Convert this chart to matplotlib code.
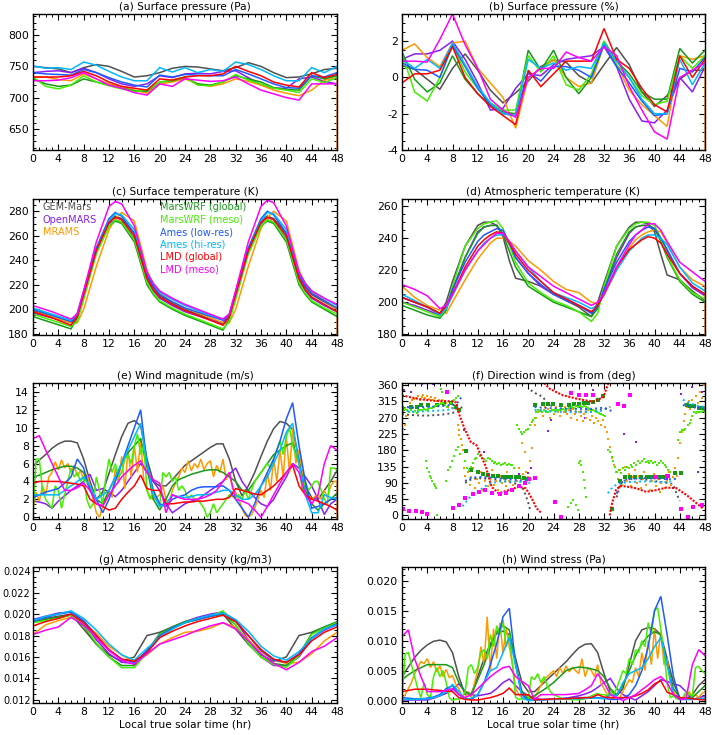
import numpy as np
import matplotlib.pyplot as plt
from matplotlib.ticker import MultipleLocator, FormatStrFormatter

plt.rcParams['font.family'] = 'DejaVu Sans'
plt.rcParams['axes.unicode_minus'] = False

nan = np.nan

models = ['GEM-Mars', 'OpenMARS', 'MRAMS', 'MarsWRF (global)', 'MarsWRF (meso)',
          'Ames (low-res)', 'Ames (hi-res)', 'LMD (global)', 'LMD (meso)']
colors = ['#505050', '#8a1ef0', '#ff9900', '#169a16', '#44ee00',
          '#1e5aff', '#00b8ff', '#ff0000', '#ff00ff']

# sample times (hr)
hours2 = np.arange(0, 49, 2)
hours1 = np.arange(0, 49, 1)
hours_half = np.arange(0, 48.5, 0.5)
hours_c = [0, 3, 6, 7, 8, 10, 12, 13, 14, 16, 18, 19, 20, 22, 24, 27, 30, 31, 32, 34,
           36, 37, 38, 40, 42, 43, 44, 46, 48]
hours_d = [0, 2, 4, 6, 7, 8, 10, 12, 13, 14, 15, 16, 17, 18, 20, 22, 24, 26, 28, 30,
           31, 32, 34, 36, 37, 38, 39, 40, 41, 42, 44, 46, 48]

# ---- (a) surface pressure, Pa (2-hourly)
gem_a = [750, 748, 746, 740, 748, 753, 750, 742, 733, 735, 740, 747, 750, 749, 746, 743, 748, 756, 750, 740, 732, 733, 738, 745, 747]
omars_a = [740, 742, 743, 740, 747, 740, 730, 722, 718, 722, 735, 732, 738, 739, 738, 742, 743, 732, 720, 715, 715, 730, 733, 726, 722]
mrams_a = [733, 733, 729, 727, 738, 730, 722, 717, 712, 707, 722, 725, 730, 722, 718, 722, 730, 726, 720, 712, 707, 703, 712, 728, 732]
wrfg_a = [730, 722, 718, 720, 730, 725, 720, 715, 711, 710, 725, 727, 732, 722, 720, 725, 735, 730, 725, 716, 713, 712, 735, 730, 735]
wrfm_a = [733, 718, 714, 720, 735, 725, 719, 714, 710, 712, 725, 728, 733, 720, 719, 725, 737, 728, 722, 715, 712, 708, 730, 724, 732]
ameslo_a = [740, 738, 737, 736, 745, 740, 732, 725, 720, 717, 736, 733, 737, 736, 735, 735, 745, 738, 730, 722, 716, 715, 735, 733, 740]
ameshi_a = [751, 747, 748, 745, 757, 752, 742, 733, 727, 727, 748, 741, 748, 740, 745, 742, 757, 753, 745, 735, 727, 727, 748, 740, 750]
lmdg_a = [733, 733, 733, 735, 742, 735, 725, 718, 715, 712, 730, 728, 733, 735, 735, 738, 750, 742, 735, 725, 720, 717, 740, 732, 737]
lmdm_a = [727, 727, 728, 732, 740, 730, 720, 715, 708, 704, 722, 718, 730, 728, 726, 727, 733, 722, 712, 706, 700, 696, 722, 722, 722]

# ---- (b) surface pressure anomaly, % (2-hourly)
gem_b = [0.65, 0.45, -0.1, -0.65, 0.5, 1.3, 0.4, -0.7, -1.4, -0.85, -0.2, 0.6, 0.95, 0.85, 0.1, -0.3, 0.7, 1.65, 0.7, -0.8, -1.6, -1.0, -0.1, 0.4, 0.4]
omars_b = [1.0, 1.3, 1.3, 1.5, 2.0, 1.0, -0.3, -1.8, -1.7, -0.6, 0.2, 0.1, 0.7, 1.0, 1.1, 1.2, 1.7, 0.6, -1.2, -2.4, -2.5, -1.8, 0.0, -0.8, 0.6]
mrams_b = [1.5, 1.85, 1.1, 0.6, 1.9, 2.0, 0.5, -0.3, -1.1, -2.8, 0.0, 0.5, 1.0, 0.0, -0.5, -0.3, 1.8, 0.7, -0.7, -1.5, -2.1, -2.7, 1.2, 1.0, 1.2]
wrfg_b = [1.4, -0.1, -0.8, -0.3, 1.2, -0.1, -0.9, -1.5, -1.9, -2.0, 1.5, 0.4, 1.5, 0.0, -0.9, 0.0, 2.0, 0.9, 0.2, -0.8, -1.2, -1.2, 1.6, 0.8, 1.5]
wrfm_b = [1.3, -0.8, -1.3, 0.0, 1.8, 0.3, -0.6, -1.4, -1.8, -1.8, 1.2, 0.3, 1.2, -0.4, -0.7, 0.2, 2.0, 0.7, 0.0, -1.0, -1.5, -1.3, 1.2, 0.5, 1.2]
ameslo_b = [0.8, 0.45, 0.4, 0.0, 1.8, 0.6, -0.6, -1.5, -2.0, -2.1, 0.3, -0.2, 0.6, 0.6, 0.4, 0.0, 1.8, 0.6, -0.3, -1.3, -2.1, -2.0, 0.5, 0.3, 1.1]
ameshi_b = [1.0, 0.5, 1.0, 0.5, 1.9, 0.7, -0.5, -1.4, -2.0, -2.1, 1.0, 0.5, 0.8, 0.4, 0.6, 0.5, 1.9, 0.9, 0.0, -1.2, -2.0, -2.0, 1.0, -0.4, 0.8]
lmdg_b = [-0.3, 0.2, 0.2, 0.4, 1.7, 0.0, -0.9, -1.6, -2.1, -2.6, 0.4, -0.5, 0.2, 0.9, 0.9, 0.9, 2.7, 1.0, 0.5, -0.6, -1.5, -1.9, 1.2, 0.0, 1.0]
lmdm_b = [0.9, 0.9, 0.85, 2.1, 3.5, 1.8, 0.5, -1.2, -1.8, -2.2, 0.0, 0.5, 0.5, 1.4, 1.1, 0.9, 1.7, 1.2, -0.5, -1.8, -3.0, -3.4, 0.0, 0.4, 0.8]

# ---- (c) surface temperature, K (hours_c)
gem_c = [199, 194, 189, 195, 212, 248, 272, 276, 274, 262, 227, 218, 211, 205, 200, 194, 188, 194, 212, 248, 272, 276, 274, 262, 227, 218, 212, 206, 200]
omars_c = [197, 193, 190, 197, 215, 250, 270, 273, 271, 258, 224, 215, 209, 203, 198, 193, 189, 196, 215, 250, 270, 273, 271, 258, 224, 215, 209, 203, 198]
mrams_c = [198, 194, 189, 189, 200, 235, 265, 274, 279, 272, 232, 220, 213, 206, 201, 195, 189, 189, 200, 235, 266, 275, 280, 272, 232, 221, 214, 207, 200]
wrfg_c = [194, 189, 184, 193, 212, 248, 268, 272, 270, 255, 220, 212, 206, 200, 195, 189, 183, 192, 212, 248, 268, 272, 270, 255, 220, 212, 206, 200, 194]
wrfm_c = [196, 191, 186, 190, 208, 245, 268, 273, 271, 257, 222, 213, 207, 201, 196, 190, 184, 190, 208, 245, 268, 273, 271, 257, 222, 213, 207, 201, 196]
ameslo_c = [200, 195, 190, 196, 213, 250, 274, 279, 276, 262, 228, 219, 212, 206, 201, 196, 191, 196, 213, 250, 274, 280, 277, 262, 228, 219, 213, 207, 201]
ameshi_c = [201, 196, 191, 196, 212, 248, 272, 278, 277, 265, 230, 221, 214, 208, 203, 197, 192, 196, 212, 248, 272, 279, 278, 265, 230, 221, 215, 209, 203]
lmdg_c = [198, 193, 187, 194, 212, 248, 271, 275, 273, 260, 225, 216, 210, 204, 199, 193, 187, 194, 212, 248, 271, 275, 273, 260, 225, 216, 210, 204, 198]
lmdm_c = [203, 198, 192, 196, 215, 255, 284, 288, 286, 268, 230, 221, 215, 209, 204, 198, 192, 196, 215, 255, 284, 289, 287, 268, 230, 221, 215, 209, 204]

# ---- (d) atmospheric temperature, K (hours_d)
gem_d = [203, 200, 197, 193, 200, 213, 235, 248, 250, 250, 248, 241, 226, 215, 213, 210, 205, 201, 197, 191, 200, 212, 235, 247, 250, 250, 249, 244, 230, 217, 214, 207, 201]
omars_d = [200, 198, 195, 192, 196, 208, 228, 244, 247, 248, 248, 243, 236, 228, 218, 210, 205, 202, 198, 194, 196, 207, 228, 243, 247, 248, 248, 246, 240, 232, 218, 209, 204]
mrams_d = [210, 203, 198, 195, 193, 200, 214, 227, 232, 237, 240, 240, 238, 235, 226, 220, 213, 208, 206, 200, 199, 204, 220, 234, 239, 242, 244, 245, 244, 237, 222, 214, 210]
wrfg_d = [198, 195, 192, 190, 195, 207, 228, 243, 247, 248, 248, 242, 232, 222, 210, 205, 200, 197, 194, 191, 196, 208, 230, 244, 247, 248, 248, 246, 238, 228, 213, 205, 200]
wrfm_d = [200, 197, 194, 191, 196, 210, 235, 246, 249, 250, 251, 246, 236, 225, 212, 206, 201, 198, 194, 188, 193, 210, 235, 246, 249, 250, 250, 248, 240, 229, 214, 206, 202]
ameslo_d = [203, 200, 197, 193, 197, 208, 225, 238, 242, 244, 246, 245, 237, 228, 218, 211, 205, 201, 198, 193, 197, 208, 225, 238, 242, 245, 247, 246, 240, 233, 218, 210, 205]
ameshi_d = [205, 201, 197, 192, 196, 204, 220, 232, 237, 240, 242, 242, 238, 232, 222, 213, 206, 203, 200, 196, 198, 205, 220, 232, 236, 240, 242, 242, 240, 236, 222, 212, 207]
lmdg_d = [203, 200, 197, 193, 198, 205, 222, 235, 239, 242, 244, 243, 237, 230, 220, 213, 206, 202, 198, 194, 198, 205, 222, 233, 236, 239, 241, 240, 237, 230, 218, 210, 205]
lmdm_d = [211, 208, 204, 196, 198, 205, 220, 232, 236, 240, 243, 243, 238, 232, 222, 216, 210, 206, 202, 198, 200, 205, 222, 236, 242, 245, 249, 249, 245, 238, 225, 219, 213]

# ---- (e) wind magnitude, m/s (hourly; MRAMS and MarsWRF meso half-hourly)
gem_e = [5.7, 6.4, 7.0, 7.7, 8.2, 8.5, 8.5, 8.3, 6.5, 4.0, 2.0, 2.8, 4.9, 7.0, 9.0, 10.5, 10.8, 10.2, 6.5, 4.0,
         3.5, 3.5, 4.2, 5.0, 5.8, 6.3, 6.8, 7.3, 7.8, 8.2, 8.2, 6.5, 4.0, 2.4, 3.5, 5.0, 6.8, 8.5, 9.9, 10.7,
         10.5, 9.8, 6.5, 3.5, 2.2, 2.0, 3.0, 4.0, 5.2]
omars_e = [1.8, 1.7, 1.5, 1.0, 1.8, 2.4, 3.0, 3.5, 4.0, 4.8, 3.0, 3.2, 2.8, 2.3, 3.0, 4.0, 5.0, 6.0, 5.0, 4.0,
           3.0, 1.5, 0.5, 1.0, 1.5, 1.8, 2.0, 2.5, 3.0, 3.5, 4.0, 4.8, 5.5, 4.0, 3.0, 2.2, 1.5, 1.2, 2.0, 3.3,
           4.5, 6.0, 5.5, 4.5, 3.5, 2.0, 0.3, 1.5, 2.0]
mrams_e = [1.0, 2.8, 1.8, 3.5, 2.5, 4.5, 5.0, 6.2, 5.3, 6.4, 5.5, 6.0, 5.0, 5.8, 4.6, 5.2, 4.2, 4.8, 3.5, 2.0,
           0.5, 0.0, 1.2, 1.8, 3.0, 2.2, 5.5, 3.8, 6.8, 3.2, 7.5, 4.5, 8.0, 5.0, 8.8, 4.0, 3.0, 2.3, 2.0, 2.2,
           2.5, 3.5, 2.0, 1.5, 3.0, 3.8, 4.5, 5.5, 5.0, 6.3, 5.2, 6.0, 5.5, 6.5, 5.3, 6.0, 6.3, 4.5, 5.8, 5.0,
           6.5, 4.2, 5.0, 3.2, 2.8, 2.0, 1.0, 0.2, 0.0, 0.3, 1.0, 2.0, 3.0, 2.2, 5.0, 3.0, 6.5, 4.0, 7.5, 4.5,
           9.0, 5.0, 10.0, 6.0, 7.5, 5.0, 3.0, 2.5, 2.0, 2.3, 2.5, 2.0, 3.0, 2.2, 3.5, 4.0, 4.0]
wrfg_e = [4.5, 4.7, 5.0, 5.3, 5.5, 5.7, 5.7, 5.5, 5.0, 3.0, 2.0, 1.5, 3.0, 4.5, 6.0, 7.2, 8.0, 8.8, 5.5, 2.0,
          0.8, 2.0, 3.5, 4.2, 4.5, 4.8, 5.0, 5.2, 5.3, 5.3, 5.0, 4.5, 4.0, 3.0, 3.0, 4.0, 5.0, 6.0, 7.0, 7.5,
          8.0, 8.3, 6.0, 3.0, 1.5, 0.8, 1.5, 2.0, 2.7]
wrfm_e = [0.2, 6.5, 6.5, 3.0, 2.0, 1.5, 1.0, 3.5, 3.0, 1.0, 2.5, 4.0, 5.5, 4.5, 5.0, 4.0, 4.5, 2.0, 1.0, 1.5,
          4.5, 3.0, 1.5, 4.5, 6.5, 5.0, 6.0, 4.5, 5.0, 6.5, 7.0, 6.0, 8.0, 9.3, 7.0, 8.0, 3.0, 2.0, 3.0, 2.0,
          1.2, 5.0, 4.5, 5.0, 4.0, 4.5, 3.0, 3.5, 3.0, 2.0, 2.5, 2.0, 2.0, 1.5, 1.0, 0.0, 0.5, 1.5, 0.5, 1.0,
          1.5, 2.0, 2.5, 2.3, 2.2, 2.5, 2.0, 3.0, 2.0, 3.0, 4.0, 4.5, 5.0, 5.5, 6.0, 5.5, 6.5, 7.5, 8.5, 7.0,
          9.0, 10.0, 8.0, 7.0, 6.0, 3.0, 4.0, 3.0, 3.5, 4.0, 4.0, 3.0, 2.0, 1.5, 5.5, 5.5, 5.3]
ameslo_e = [2.2, 2.5, 2.8, 3.0, 3.2, 3.8, 4.5, 6.5, 5.5, 3.0, 2.0, 0.5, 2.0, 4.0, 6.0, 8.0, 10.0, 12.0, 6.0, 3.0,
            1.5, 1.2, 2.0, 2.3, 2.5, 3.0, 3.3, 3.4, 3.4, 3.4, 3.5, 3.0, 2.0, 1.0, 0.0, 1.5, 3.5, 5.0, 6.5, 8.5,
            11.0, 12.8, 8.0, 4.0, 1.0, 1.2, 1.5, 2.0, 2.2]
ameshi_e = [2.5, 2.5, 2.5, 2.5, 2.5, 3.0, 3.5, 4.0, 4.5, 3.5, 2.0, 2.5, 3.0, 4.5, 6.0, 7.5, 9.0, 10.5, 6.0, 2.5,
            1.2, 1.5, 2.5, 2.3, 2.2, 2.3, 2.5, 2.5, 2.6, 2.8, 3.0, 3.0, 2.5, 2.0, 2.0, 2.5, 3.5, 4.5, 6.0, 7.5,
            9.5, 10.5, 6.0, 2.5, 0.5, 0.5, 2.5, 2.2, 2.0]
lmdg_e = [3.8, 4.0, 4.0, 4.0, 4.0, 3.9, 3.8, 3.7, 3.5, 2.0, 1.5, 1.2, 0.8, 1.0, 2.0, 2.8, 3.5, 4.7, 3.2, 3.0,
          3.0, 1.5, 1.5, 1.6, 1.7, 1.7, 1.8, 1.8, 1.9, 2.0, 2.0, 2.2, 3.2, 3.0, 2.8, 2.6, 2.5, 3.0, 3.5, 4.2,
          5.0, 5.8, 3.5, 2.5, 2.0, 1.8, 1.5, 1.2, 0.8]
lmdm_e = [8.8, 9.1, 7.5, 6.0, 4.5, 3.0, 3.0, 3.3, 3.8, 3.0, 1.5, 1.3, 2.5, 3.5, 4.5, 5.2, 5.8, 6.3, 5.0, 4.2,
          3.8, 0.5, 2.5, 2.2, 2.0, 2.0, 2.0, 2.2, 2.5, 3.0, 4.0, 5.0, 2.0, 1.8, 1.5, 0.8, 0.0, 1.2, 2.5, 3.8,
          5.0, 6.0, 5.0, 2.5, 1.5, 2.5, 6.0, 8.0, 7.5]

# last MRAMS sample drops off the bottom of panels a-e
mrams_drop = {'a': 600, 'b': -5, 'c': 170, 'd': 170, 'e': -1}

# ---- (f) direction wind is from, deg: (hour, deg) samples
gem_f = [(0, 280), (1, 278), (2, 277), (3, 276), (4, 276), (5, 277), (6, 278), (7, 280), (8, 283), (9, 290), (9.5, 300), (nan, nan),
         (10, 90), (11, 100), (12, 103), (13, 102), (14, 100), (15, 98), (16, 95), (17, 92), (18, 88), (19, 80), (19.5, 60), (20, 35), (20.3, 15), (nan, nan),
         (20.4, 346), (21.2, 337), (22.3, 328), (23, 310), (24, 300), (25, 295), (26, 290), (27, 288), (28, 287), (29, 287), (30, 288), (31, 290), (32, 293), (33, 300), (nan, nan),
         (34, 50), (34.5, 80), (35, 95), (36, 100), (37, 102), (38, 100), (39, 98), (40, 95), (41, 92), (42, 90), (43, 85), (43.5, 60), (44, 40), (nan, nan),
         (44.8, 310), (45, 305), (46, 300), (47, 295), (48, 290)]
ameslo_f = [(0, 300), (1, 299), (2, 298), (3, 299), (4, 300), (5, 301), (6, 302), (7, 303), (8, 305), (8.5, 308), (9, 315), (9.5, 330), (nan, nan),
            (10, 95), (10.5, 100), (11, 104), (12, 106), (13, 106), (14, 104), (15, 103), (16, 101), (17, 100), (18, 98), (19, 96), (20, 98), (20.5, 100), (nan, nan),
            (21, 300), (22, 298), (23, 297), (24, 296), (25, 296), (26, 295), (27, 295), (28, 294), (29, 294), (30, 294), (31, 296), (32, 298), (33, 290), (33.5, 285), (nan, nan),
            (34, 60), (34.5, 85), (35, 95), (36, 100), (37, 102), (38, 103), (39, 103), (40, 102), (41, 101), (42, 100), (43, 100), (43.5, 102), (nan, nan),
            (44.5, 305), (45, 303), (46, 300), (47, 298), (48, 296)]
ameshi_f = [(0, 290), (1, 288), (2, 286), (3, 287), (4, 288), (5, 289), (6, 290), (7, 291), (8, 295), (9, 310), (nan, nan),
            (9.6, 25), (10, 35), (10.5, 45), (11, 55), (12, 65), (13, 79), (14, 88), (15, 92), (16, 94), (17, 94), (18, 93), (19, 92), (20, 95), (20.5, 80), (nan, nan),
            (21, 292), (22, 290), (23, 288), (24, 287), (25, 286), (26, 286), (27, 285), (28, 285), (29, 285), (30, 286), (31, 288), (32, 290), (nan, nan),
            (32.6, 61), (33.4, 79), (34, 85), (35, 90), (36, 92), (37, 93), (38, 94), (39, 94), (40, 93), (41, 92), (42, 92), (43, 95), (nan, nan),
            (44.5, 320), (45, 315), (46, 308), (47, 302), (48, 300)]
lmdg_f = [(0, 332), (1, 328), (2, 324), (3, 321), (4, 319), (5, 317), (6, 316), (7, 316), (8, 315), (8.6, 312), (9, 282), (9.9, 240), (10.9, 203), (11.8, 194),
          (12.7, 158), (13.3, 134), (13.7, 107), (14.2, 79), (15.3, 61), (16.9, 70), (18.5, 79), (19.6, 75), (20.1, 61), (20.7, 42), (21.3, 20), (22.1, 6), (nan, nan),
          (22.5, 366), (23.4, 350), (25.5, 332), (27.6, 323), (30.3, 314), (31.9, 327), (32.7, 366), (nan, nan),
          (32.9, 0), (33.3, 35), (33.9, 70), (34.5, 81), (35.5, 80), (37.1, 75), (38.7, 65), (40.3, 70), (41.9, 77), (43.5, 75), (45.1, 56), (46.7, 33), (47.7, 19)]
omars_f = [(0.3, 348), (1.5, 340), (3.1, 363), (4.9, 363), (8.5, 300), (9.8, 237), (13.0, 176), (18.5, 115), (19.9, 116), (20.5, 130), (21.3, 102),
           (23.1, 232), (23.6, 265), (28.2, 300), (29.0, 270), (30.3, 346), (31.5, 250), (35.1, 225), (37.0, 203), (39.5, 110), (42.0, 100),
           (44.2, 335), (46.0, 355), (46.9, 120), (47.5, 340)]
lmdm_f = [(0.2, 17), (1.1, 13), (2.2, 11), (3.1, 9), (4.0, 5), (7.2, 340), (8.0, 20), (9.0, 30), (10.0, 48), (11.2, 60), (12.2, 65), (13.2, 70),
          (14.2, 62), (15.5, 60), (16.5, 62), (17.5, 70), (18.5, 80), (19.5, 90), (20.1, 100), (21.1, 102), (24.2, 38), (25.2, -5), (26.8, 337),
          (28.0, 332), (29.2, 332), (30.3, 333), (34.2, 307), (35.1, 302), (36.1, 334), (40.2, 105), (42.0, 108), (44.2, 19), (45.3, -4),
          (46.1, 24), (47.5, 28)]
wrfg_f = [(0.2, 295), (1.4, 300), (2.4, 300), (3.0, 305), (4.1, 305), (5.5, 305), (6.7, 309), (7.7, 310), (8.5, 300), (9.1, 291), (10.1, 178),
          (10.9, 125), (12.0, 120), (12.8, 115), (13.6, 112), (14.4, 109), (15.2, 108), (16.0, 105), (16.7, 105), (17.3, 105), (18.0, 106),
          (18.6, 107), (19.3, 104), (19.9, 101), (21.1, 305), (22.4, 309), (23.2, 308), (23.9, 309), (25.2, 305), (26.5, 305), (27.3, 307),
          (28.1, 309), (28.8, 310), (29.4, 311), (30.2, 313), (31.0, 318), (31.9, 330), (33.2, 19), (34.5, 95), (35.3, 107), (36.1, 106),
          (36.9, 105), (37.8, 105), (38.8, 105), (39.5, 106), (40.1, 107), (40.8, 107), (41.4, 107), (42.2, 110), (43.3, 116), (44.2, 116),
          (45.1, 305), (45.7, 303), (46.3, 302), (47.0, 298), (47.5, 296)]
mrams_f = [(0.2, 240), (0.4, 250), (0.6, 275), (0.8, 290), (1.0, 300), (1.3, 310), (1.6, 318), (1.9, 322), (2.2, 325), (2.5, 330), (2.8, 320),
           (3.1, 328), (3.4, 332), (3.7, 325), (4.0, 330), (4.3, 322), (4.6, 328), (4.9, 318), (5.2, 325), (5.5, 315), (5.8, 320), (6.1, 310),
           (6.4, 318), (6.7, 305), (7.0, 312), (7.3, 300), (7.6, 308), (7.9, 298), (8.2, 305), (8.5, 295), (8.8, 250), (9.0, 236), (9.1, 222),
           (9.3, 210), (9.5, 195), (9.6, 180), (9.8, 130), (10.0, 110), (10.2, 95), (10.5, 120), (10.8, 85), (11.0, 105), (11.3, 130), (11.6, 75),
           (11.9, 100), (12.2, 90), (12.5, 120), (12.8, 70), (13.1, 95), (13.4, 110), (13.7, 80), (14.0, 100), (14.3, 125), (14.6, 85), (14.9, 95),
           (15.2, 70), (15.5, 110), (15.8, 90), (16.1, 100), (16.4, 80), (16.7, 120), (17.0, 95), (17.3, 105), (17.6, 85), (17.9, 110), (18.2, 95),
           (18.5, 130), (18.8, 100), (19.1, 115), (19.4, 90), (19.7, 120), (20.0, 105), (19.0, 200), (19.5, 175), (20.2, 150), (20.6, 185),
           (21.0, 250), (21.3, 270), (21.6, 285), (22.0, 290), (22.3, 275), (22.6, 300), (22.9, 285), (23.2, 295), (23.5, 270), (23.8, 290),
           (24.1, 280), (24.4, 300), (24.7, 285), (25.0, 275), (25.3, 295), (25.6, 285), (25.9, 300), (26.2, 280), (26.5, 290), (26.8, 270),
           (27.1, 295), (27.4, 280), (27.7, 265), (28.0, 285), (28.3, 275), (28.6, 260), (28.9, 280), (29.2, 270), (29.5, 290), (29.8, 265),
           (30.1, 275), (30.4, 255), (30.7, 270), (31.0, 260), (31.3, 280), (31.6, 250), (31.9, 265), (32.2, 245), (32.5, 230), (32.7, 210),
           (33.0, 190), (33.3, 160), (33.6, 140), (33.9, 120), (34.2, 100), (34.5, 125), (34.8, 85), (35.1, 110), (35.4, 135), (35.7, 95),
           (36.0, 115), (36.3, 80), (36.6, 105), (36.9, 125), (37.2, 90), (37.5, 110), (37.8, 75), (38.1, 100), (38.4, 120), (38.7, 85),
           (39.0, 105), (39.3, 70), (39.6, 95), (39.9, 115), (40.2, 80), (40.5, 100), (40.8, 65), (41.1, 90), (41.4, 110), (41.7, 75), (42.0, 95),
           (42.3, 120), (42.6, 85), (42.9, 105), (43.2, 130), (43.5, 110), (43.8, 160), (44.0, 200), (44.3, 230), (44.6, 260), (44.9, 280),
           (45.1, 300), (45.4, 315), (45.7, 295), (46.0, 320), (46.3, 305), (46.6, 330), (46.9, 310), (47.2, 340), (47.5, 325), (47.8, 360), (48.0, 300)]
wrfm_f = [(0.2, 300), (0.5, 295), (0.8, 290), (1.1, 285), (1.4, 290), (1.7, 285), (2.0, 288), (2.3, 284), (2.6, 290), (2.9, 292), (3.2, 290),
          (3.5, 293), (3.8, 292), (4.1, 295), (4.4, 296), (4.7, 298), (5.0, 300), (5.3, 302), (5.6, 304), (5.9, 306), (6.2, 308), (6.5, 310),
          (6.8, 305), (7.1, 300), (7.4, 305), (7.7, 310), (8.0, 315), (8.3, 320), (8.6, 325), (8.9, 330), (5.9, 365), (6.1, 350), (6.3, 340),
          (3.8, 150), (4.0, 130), (4.2, 120), (4.4, 110), (4.6, 102), (4.8, 95), (5.0, 88), (5.2, 80), (5.4, 75), (5.5, 2),
          (7.0, 95), (7.3, 125), (7.6, 135), (7.9, 150), (8.2, 165), (8.5, 180), (8.8, 190), (9.2, 170),
          (10.0, 150), (10.3, 130), (10.6, 125), (10.9, 135), (11.2, 145), (11.5, 155), (11.8, 160), (12.1, 170), (12.4, 165), (12.7, 160),
          (13.0, 155), (13.3, 150), (13.6, 160), (13.9, 155), (14.2, 150), (14.5, 145), (14.8, 148), (15.1, 142), (15.4, 145), (15.7, 140),
          (16.0, 143), (16.3, 145), (16.6, 140), (16.9, 142), (17.2, 138), (17.5, 140), (17.8, 130),
          (18.2, 249), (18.5, 240), (18.8, 230), (19.0, 226), (19.3, 230), (19.6, 235), (20.0, 240), (20.3, 250), (20.6, 258), (20.8, 263),
          (21.0, 270), (21.3, 286), (21.6, 290), (21.9, 288), (22.2, 285), (22.5, 290), (22.8, 287), (23.1, 285), (23.4, 288), (23.7, 290),
          (24.0, 292), (24.3, 288), (24.6, 290), (24.9, 292), (25.2, 290), (25.5, 295), (25.8, 292), (26.1, 295), (26.4, 298), (26.7, 296),
          (27.0, 300), (27.3, 298), (27.6, 302), (27.9, 300), (28.2, 303), (28.5, 300), (28.8, 302), (29.1, 300), (29.4, 298), (29.7, 295),
          (30.0, 292), (30.3, 290), (30.6, 288), (30.9, 285), (31.2, 283), (31.5, 280), (31.8, 278), (32.1, 275),
          (28.0, 145), (28.2, 150), (28.4, 140), (28.6, 120), (28.8, 98), (29.0, 75), (29.1, 51),
          (26.3, 24), (26.7, 35), (27.1, 42), (27.5, 30), (27.9, 15), (27.9, 365),
          (32.7, 180), (33.0, 174), (33.2, 162), (33.5, 150), (33.8, 135),
          (34.1, 120), (34.4, 125), (34.7, 118), (35.0, 130), (35.3, 125), (35.6, 135), (35.9, 130), (36.2, 140), (36.5, 135), (36.8, 145),
          (37.1, 140), (37.4, 150), (37.7, 145), (38.0, 150), (38.3, 155), (38.6, 148), (38.9, 150), (39.2, 145), (39.5, 150), (39.8, 145),
          (40.1, 148), (40.4, 140), (40.7, 145), (41.0, 150), (41.3, 145), (41.6, 140), (41.9, 135), (42.2, 125), (42.5, 120),
          (43.8, 208), (44.0, 230), (44.3, 236), (44.6, 236), (44.9, 238), (45.3, 249), (45.6, 255), (45.8, 263), (46.0, 275),
          (46.2, 285), (46.5, 283), (46.8, 285), (47.1, 287), (47.4, 285), (47.7, 288), (48.0, 285)]

# ---- (g) atmospheric density, kg/m3 (2-hourly)
gem_g = [0.0195, 0.0196, 0.0198, 0.0200, 0.0186, 0.0172, 0.0162, 0.0156, 0.0160, 0.0180, 0.0183, 0.0188, 0.0192, 0.0195, 0.0198, 0.0200, 0.0186, 0.0172, 0.0162, 0.0156, 0.0160, 0.0180, 0.0183, 0.0188, 0.0192]
omars_g = [0.0195, 0.0198, 0.0201, 0.0202, 0.0193, 0.0176, 0.0163, 0.0155, 0.0154, 0.0166, 0.0180, 0.0188, 0.0193, 0.0197, 0.0200, 0.0202, 0.0194, 0.0176, 0.0160, 0.0152, 0.0152, 0.0160, 0.0177, 0.0185, 0.0190]
mrams_g = [0.0181, 0.0190, 0.0194, 0.0197, 0.0192, 0.0182, 0.0170, 0.0162, 0.0155, 0.0162, 0.0172, 0.0178, 0.0183, 0.0184, 0.0187, 0.0192, 0.0188, 0.0176, 0.0165, 0.0157, 0.0154, 0.0155, 0.0163, 0.0175, 0.0183]
wrfg_g = [0.0193, 0.0195, 0.0197, 0.0199, 0.0189, 0.0172, 0.0160, 0.0152, 0.0152, 0.0165, 0.0182, 0.0188, 0.0193, 0.0196, 0.0198, 0.0200, 0.0190, 0.0172, 0.0160, 0.0154, 0.0152, 0.0162, 0.0182, 0.0188, 0.0193]
wrfm_g = [0.0192, 0.0194, 0.0196, 0.0199, 0.0190, 0.0173, 0.0160, 0.0150, 0.0150, 0.0164, 0.0181, 0.0187, 0.0192, 0.0195, 0.0198, 0.0203, 0.0190, 0.0173, 0.0160, 0.0153, 0.0150, 0.0161, 0.0181, 0.0187, 0.0192]
ameslo_g = [0.0193, 0.0197, 0.0200, 0.0202, 0.0194, 0.0180, 0.0166, 0.0158, 0.0155, 0.0165, 0.0180, 0.0187, 0.0192, 0.0195, 0.0198, 0.0201, 0.0194, 0.0180, 0.0166, 0.0157, 0.0155, 0.0163, 0.0178, 0.0186, 0.0191]
ameshi_g = [0.0194, 0.0198, 0.0200, 0.0203, 0.0196, 0.0185, 0.0172, 0.0162, 0.0157, 0.0168, 0.0178, 0.0186, 0.0192, 0.0196, 0.0199, 0.0201, 0.0195, 0.0184, 0.0170, 0.0161, 0.0157, 0.0165, 0.0177, 0.0186, 0.0190]
lmdg_g = [0.0189, 0.0193, 0.0196, 0.0200, 0.0192, 0.0180, 0.0167, 0.0158, 0.0156, 0.0164, 0.0178, 0.0184, 0.0189, 0.0193, 0.0196, 0.0199, 0.0193, 0.0180, 0.0167, 0.0158, 0.0155, 0.0162, 0.0175, 0.0183, 0.0188]
lmdm_g = [0.0181, 0.0185, 0.0188, 0.0197, 0.0190, 0.0178, 0.0166, 0.0157, 0.0153, 0.0163, 0.0172, 0.0176, 0.0180, 0.0185, 0.0189, 0.0192, 0.0186, 0.0175, 0.0163, 0.0154, 0.0148, 0.0155, 0.0165, 0.0170, 0.0178]

# ---- (h) wind stress, mPa (hourly; MRAMS and MarsWRF meso half-hourly)
gem_h = [4.0, 5.6, 7.2, 8.4, 9.3, 9.9, 10.1, 9.8, 8.0, 4.0, 1.0, 1.2, 4.0, 7.0, 9.5, 11.2, 11.6, 11.0, 7.0, 3.0,
         1.5, 1.5, 2.5, 3.5, 4.5, 5.5, 6.5, 7.7, 8.8, 9.4, 9.5, 8.0, 4.5, 1.5, 0.8, 2.0, 6.0, 10.0, 11.8, 12.2,
         12.0, 11.0, 7.0, 3.0, 0.5, 0.3, 1.0, 2.5, 3.5]
omars_h = [0.1, 0.1, 0.1, 0.1, 0.1, 0.4, 0.8, 1.2, 1.8, 2.8, 1.5, 1.0, 0.8, 1.0, 1.2, 2.0, 3.0, 3.6, 2.5, 1.5,
           0.8, 0.4, 0.2, 0.2, 0.2, 0.3, 0.4, 0.6, 0.8, 1.1, 1.5, 2.2, 3.0, 3.7, 2.0, 1.0, 0.5, 0.1, 0.8, 1.5,
           2.5, 3.5, 3.2, 2.8, 2.5, 1.5, 0.2, 0.5, 0.8]
mrams_h = [0.3, 1.0, 2.0, 3.0, 4.5, 5.5, 6.5, 6.2, 7.0, 5.5, 6.5, 4.8, 5.8, 4.0, 5.2, 3.8, 4.2, 2.8, 2.0, 0.8,
           0.2, 1.5, 0.5, 3.0, 5.0, 9.0, 6.0, 14.0, 5.0, 12.0, 7.0, 13.0, 8.0, 12.0, 9.0, 6.0, 2.0, 1.0, 0.5, 0.3,
           0.2, 0.2, 0.5, 1.5, 2.5, 3.5, 4.0, 4.5, 5.0, 4.0, 5.5, 4.5, 5.8, 4.8, 5.5, 5.0, 4.5, 7.0, 4.0, 5.5,
           5.0, 4.0, 6.0, 3.0, 2.0, 1.0, 0.5, 0.3, 0.2, 0.5, 1.5, 2.5, 3.5, 3.0, 5.5, 4.0, 8.0, 5.0, 10.0, 6.0,
           12.0, 7.0, 11.5, 6.0, 7.0, 3.0, 1.5, 0.5, 0.2, 0.3, 1.0, 1.5, 0.5, 1.0, 0.5, 1.2, 1.5]
wrfg_h = [3.5, 4.3, 5.0, 5.5, 6.0, 6.0, 6.0, 6.0, 5.5, 3.0, 1.5, 1.0, 3.5, 6.0, 9.0, 11.5, 12.5, 11.8, 6.0, 1.5,
          0.3, 0.8, 1.5, 2.2, 3.0, 4.0, 5.0, 5.4, 5.6, 5.5, 5.3, 5.0, 4.0, 2.0, 1.0, 2.5, 5.0, 7.5, 9.5, 10.8,
          11.5, 11.0, 6.0, 2.0, 0.5, 0.4, 0.5, 1.5, 2.5]
wrfm_h = [0.5, 7.8, 8.0, 6.0, 4.0, 2.0, 0.5, 3.0, 1.0, 0.5, 4.0, 5.5, 4.0, 5.0, 3.0, 0.5, 0.0, 0.3, 0.2, 0.5,
          1.5, 5.5, 6.0, 4.5, 5.5, 8.0, 8.5, 7.0, 11.0, 9.0, 12.5, 11.0, 13.5, 9.0, 11.0, 6.0, 0.5, 0.2, 0.3, 0.2,
          0.3, 4.0, 3.5, 4.5, 3.0, 4.0, 2.5, 1.5, 1.0, 0.8, 0.5, 0.3, 0.2, 0.2, 0.1, 0.2, 0.1, 0.2, 0.3, 0.5,
          0.8, 1.0, 1.2, 1.0, 1.0, 0.8, 1.5, 1.0, 2.0, 3.5, 5.0, 4.5, 7.0, 6.0, 8.5, 8.0, 10.0, 9.0, 13.0, 11.0,
          15.0, 15.5, 12.0, 8.0, 3.0, 0.5, 0.8, 0.3, 0.2, 0.5, 1.5, 1.0, 0.8, 5.5, 5.7, 5.0, 4.5]
ameslo_h = [0.5, 0.4, 0.3, 0.3, 0.4, 0.6, 1.0, 2.0, 2.5, 1.0, 0.3, 0.2, 1.0, 3.0, 6.0, 9.5, 14.0, 15.4, 6.0, 1.0,
            0.1, 0.1, 0.1, 0.2, 0.3, 0.3, 0.4, 0.4, 0.5, 0.5, 0.5, 0.5, 0.4, 0.2, 0.2, 0.4, 1.0, 2.5, 5.0, 9.0,
            15.0, 17.4, 11.0, 4.0, 0.2, 0.2, 0.2, 0.3, 0.4]
ameshi_h = [0.2, 0.2, 0.2, 0.3, 0.3, 0.5, 0.8, 1.5, 2.7, 1.5, 0.2, 0.4, 1.0, 3.0, 5.0, 5.5, 8.0, 10.5, 6.0, 0.5,
            0.0, 0.1, 0.1, 0.2, 0.2, 0.2, 0.3, 0.3, 0.3, 0.4, 0.4, 0.4, 0.3, 1.0, 0.8, 3.0, 4.5, 5.0, 5.5, 7.0,
            9.0, 10.5, 6.0, 1.0, 0.2, 0.2, 0.2, 0.3, 0.3]
lmdg_h = [1.5, 1.7, 1.9, 1.9, 1.9, 1.8, 1.7, 1.6, 1.5, 0.5, 0.2, 0.1, 0.1, 0.3, 0.5, 0.8, 1.2, 2.1, 1.0, 1.0,
          1.0, 0.1, 0.2, 0.2, 0.3, 0.3, 0.3, 0.4, 0.4, 0.5, 0.5, 1.0, 0.6, 0.5, 0.5, 0.5, 0.5, 0.8, 1.2, 1.8,
          2.8, 3.3, 1.4, 1.0, 0.5, 0.4, 0.3, 0.2, 0.1]
lmdm_h = [10.7, 11.8, 7.0, 4.0, 1.5, 1.5, 1.5, 1.7, 2.0, 1.0, 0.5, 1.0, 2.0, 3.0, 4.0, 4.8, 5.5, 5.7, 4.0, 3.2,
          2.5, 0.2, 1.0, 1.0, 1.0, 1.0, 1.0, 1.1, 1.2, 1.8, 2.5, 4.5, 3.0, 1.0, 0.5, 0.0, 0.5, 1.0, 1.8, 2.6,
          3.5, 4.0, 3.0, 1.0, 0.2, 0.3, 6.0, 8.5, 7.5]

# ------------------------------------------------------------------
fig = plt.figure(figsize=(7.12, 7.35), dpi=100)
W, H = 712, 735
col_left = [33, 402]
col_width = [304, 303]
row_top = [14, 199, 383, 567]
ax_h = 136


def make_ax(row, col):
    return fig.add_axes([col_left[col] / W, 1 - (row_top[row] + ax_h) / H,
                         col_width[col] / W, ax_h / H])


def style(ax, title, ylim, major, minor, fmt=None, xlabel=False, ysize=7.8):
    ax.set_xlim(0, 48)
    ax.set_ylim(*ylim)
    ax.xaxis.set_major_locator(MultipleLocator(4))
    ax.xaxis.set_minor_locator(MultipleLocator(1))
    ax.yaxis.set_major_locator(MultipleLocator(major))
    ax.yaxis.set_minor_locator(MultipleLocator(minor))
    if fmt:
        ax.yaxis.set_major_formatter(FormatStrFormatter(fmt))
    ax.tick_params(which='both', direction='in', top=True, right=True, labelsize=7.8, pad=3)
    ax.tick_params(axis='y', labelsize=ysize, pad=3 if ysize > 7.5 else 1.8)
    ax.tick_params(which='major', length=4.5, width=0.8)
    ax.tick_params(which='minor', length=2.5, width=0.7)
    for s in ax.spines.values():
        s.set_linewidth(1.0)
    ax.set_title(title, fontsize=7.6, pad=3)
    if xlabel:
        ax.set_xlabel('Local true solar time (hr)', fontsize=7.6, labelpad=2)


def draw_lines(ax, times, series, key, scale=1.0, noisy=()):
    for i, (name, col) in enumerate(zip(models, colors)):
        y = np.array(series[i], dtype=float) * scale
        t = hours_half if i in noisy else np.asarray(times, dtype=float)
        if i == 2 and key in mrams_drop:
            t = np.append(t, 48.0)
            y = np.append(y, mrams_drop[key])
        ax.plot(t, y, color=col, lw=1.1, solid_joinstyle='miter')


# (a)
ax = make_ax(0, 0)
draw_lines(ax, hours2, [gem_a, omars_a, mrams_a, wrfg_a, wrfm_a, ameslo_a, ameshi_a, lmdg_a, lmdm_a], 'a')
style(ax, '(a) Surface pressure (Pa)', (616, 834), 50, 10)

# (b)
ax = make_ax(0, 1)
draw_lines(ax, hours2, [gem_b, omars_b, mrams_b, wrfg_b, wrfm_b, ameslo_b, ameshi_b, lmdg_b, lmdm_b], 'b')
style(ax, '(b) Surface pressure (%)', (-4, 3.5), 2, 0.5)

# (c)
ax = make_ax(1, 0)
draw_lines(ax, hours_c, [gem_c, omars_c, mrams_c, wrfg_c, wrfm_c, ameslo_c, ameshi_c, lmdg_c, lmdm_c], 'c')
style(ax, '(c) Surface temperature (K)', (179, 290), 20, 5)
for i, (name, col) in enumerate(zip(models, colors)):
    if i < 3:
        x, y = 0.032, 0.94 - 0.092 * i
    else:
        x, y = 0.418, 0.94 - 0.092 * (i - 3)
    ax.text(x, y, name, color=col, fontsize=7, transform=ax.transAxes, va='center', ha='left')

# (d)
ax = make_ax(1, 1)
draw_lines(ax, hours_d, [gem_d, omars_d, mrams_d, wrfg_d, wrfm_d, ameslo_d, ameshi_d, lmdg_d, lmdm_d], 'd')
style(ax, '(d) Atmospheric temperature (K)', (179.5, 264.5), 20, 5)

# (e)
ax = make_ax(2, 0)
draw_lines(ax, hours1, [gem_e, omars_e, mrams_e, wrfg_e, wrfm_e, ameslo_e, ameshi_e, lmdg_e, lmdm_e], 'e',
           noisy=(2, 4))
style(ax, '(e) Wind magnitude (m/s)', (-0.2, 15), 2, 0.5)

# (f)
ax = make_ax(2, 1)
f_sets = [gem_f, omars_f, mrams_f, wrfg_f, wrfm_f, ameslo_f, ameshi_f, lmdg_f, lmdm_f]
for i, pts in enumerate(f_sets):
    t, d = np.array(pts, dtype=float).T
    col = colors[i]
    if i in (0, 5, 6):      # dotted model tracks
        ax.plot(t, d, color=col, lw=1.4, linestyle=(0, (1, 1.6)))
    elif i == 7:
        ax.plot(t, d, color=col, lw=1.5, linestyle=(0, (1, 0.7)))
    elif i in (3, 8):       # square markers
        ax.plot(t, d, 's', color=col, ms=3.0, mew=0)
    else:
        ax.plot(t, d, 's', color=col, ms=1.7, mew=0)
style(ax, '(f) Direction wind is from (deg)', (-10, 366), 45, 15)

# (g)
ax = make_ax(3, 0)
draw_lines(ax, hours2, [gem_g, omars_g, mrams_g, wrfg_g, wrfm_g, ameslo_g, ameshi_g, lmdg_g, lmdm_g], 'g')
style(ax, '(g) Atmospheric density (kg/m3)', (0.0117, 0.0244), 0.002, 0.0005, '%.3f', xlabel=True, ysize=7.0)

# (h)
ax = make_ax(3, 1)
draw_lines(ax, hours1, [gem_h, omars_h, mrams_h, wrfg_h, wrfm_h, ameslo_h, ameshi_h, lmdg_h, lmdm_h], 'h',
           scale=1e-3, noisy=(2, 4))
style(ax, '(h) Wind stress (Pa)', (-0.0004, 0.0223), 0.005, 0.001, '%.3f', xlabel=True)

fig.savefig('out.png', dpi=100)
